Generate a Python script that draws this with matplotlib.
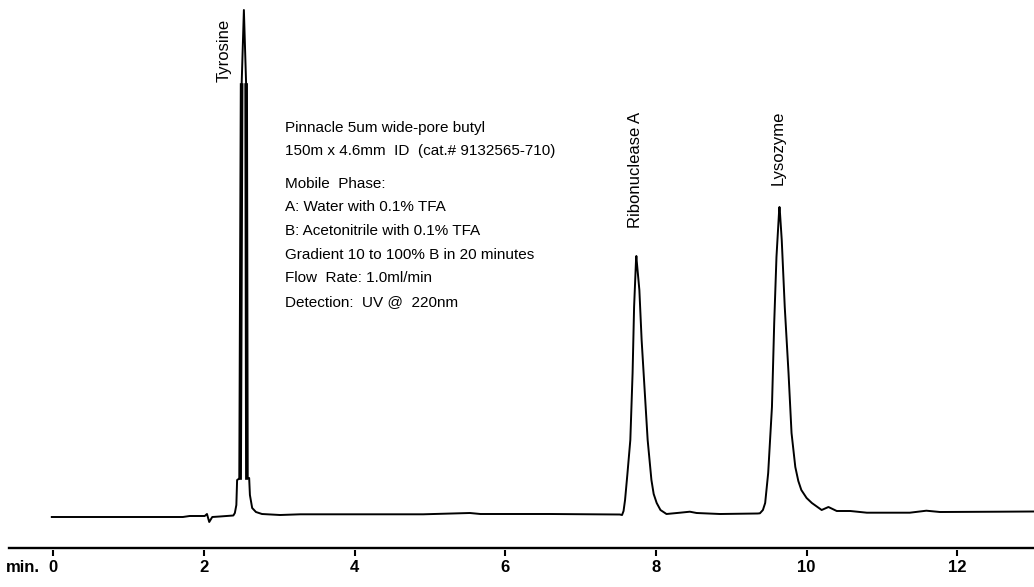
import matplotlib
matplotlib.use("Agg")
import matplotlib.pyplot as plt
from matplotlib import font_manager

# chromatogram trace: time (min), absorbance (arb. units)
trace_time = [-0.02, 1.72, 1.81, 2.01, 2.04, 2.07, 2.11, 2.21, 2.39, 2.41,
              2.43, 2.44, 2.48, 2.50, 2.53, 2.56, 2.57, 2.60, 2.61, 2.64,
              2.69, 2.77, 3.01, 3.28, 4.91, 5.53, 5.67, 6.59, 7.52, 7.55,
              7.57, 7.59, 7.62, 7.66, 7.69, 7.71, 7.735, 7.74, 7.745, 7.78,
              7.81, 7.85, 7.89, 7.94, 7.97, 8.01, 8.06, 8.14, 8.32, 8.45,
              8.54, 8.85, 9.35, 9.38, 9.42, 9.45, 9.49, 9.54, 9.57, 9.60,
              9.635, 9.64, 9.645, 9.67, 9.71, 9.76, 9.80, 9.85, 9.89, 9.93,
              10.00, 10.07, 10.20, 10.29, 10.40, 10.58, 10.80, 11.37, 11.59, 11.77,
              12.57, 13.02]
trace_signal = [0.0, 0.0, 0.1, 0.1, 0.3, -0.5, 0.0, 0.05, 0.15, 0.4,
                1.2, 3.7, 3.9, 43.2, 50.7, 43.2, 3.9, 3.9, 2.2, 0.9,
                0.5, 0.3, 0.2, 0.27, 0.27, 0.4, 0.3, 0.3, 0.25, 0.2,
                0.6, 1.7, 4.2, 7.7, 14.4, 21.0, 25.6, 26.1, 25.6, 22.7,
                17.7, 12.7, 7.7, 3.7, 2.3, 1.4, 0.7, 0.3, 0.43, 0.53,
                0.4, 0.3, 0.35, 0.37, 0.7, 1.4, 4.4, 11.0, 19.4, 26.0,
                30.6, 31.0, 30.6, 27.7, 21.0, 14.4, 8.4, 5.0, 3.6, 2.7,
                1.9, 1.4, 0.7, 1.0, 0.6, 0.6, 0.43, 0.43, 0.63, 0.5,
                0.53, 0.55]

peak_names = ["Tyrosine", "Ribonuclease A", "Lysozyme"]
peak_times = [2.27, 7.73, 9.62]
peak_label_y = [43.5, 28.9, 33.2]

x_ticks = [0, 2, 4, 6, 8, 10, 12]

conditions = [
    "Pinnacle 5um wide-pore butyl",
    "150m x 4.6mm  ID  (cat.# 9132565-710)",
    "Mobile  Phase:",
    "A: Water with 0.1% TFA",
    "B: Acetonitrile with 0.1% TFA",
    "Gradient 10 to 100% B in 20 minutes",
    "Flow  Rate: 1.0ml/min",
    "Detection:  UV @  220nm",
]
condition_y = [128, 151, 184, 207, 231, 255, 278, 302]  # pixel rows of text lines

names = {f.name for f in font_manager.fontManager.ttflist}
narrow = "Liberation Sans Narrow" if "Liberation Sans Narrow" in names else "Liberation Sans"
plt.rcParams["font.family"] = ["Liberation Sans", "DejaVu Sans"]

W, H = 1034, 587
fig = plt.figure(figsize=(W / 100, H / 100), dpi=100)
ax = fig.add_axes([0, 1 - 550 / H, 1, 550 / H])

ax.plot(trace_time, trace_signal, color="black", lw=1.4, solid_joinstyle="round")
# the off-scale tyrosine peak is drawn with heavy flanks in the original trace
ax.plot(trace_time[12:14], trace_signal[12:14], color="black", lw=2.6)
ax.plot(trace_time[15:17], trace_signal[15:17], color="black", lw=2.6)

ax.set_xlim(-53.3 / 75.33, (W - 53.3) / 75.33)
ax.set_ylim(-3.3, 51.7)

for name, t, y in zip(peak_names, peak_times, peak_label_y):
    ax.text(t, y, name, rotation=90, ha="center", va="bottom", fontsize=12)

for line, py in zip(conditions, condition_y):
    fig.text(285 / W, 1 - py / H, line, ha="left", va="center",
             fontsize=15.5 if narrow != "Liberation Sans" else 11,
             family=[narrow, "DejaVu Sans"])

# axis line sits a little above the tick marks
ax.axhline(-3.07, xmin=9 / W, xmax=1, color="black", lw=1.7)
for s in ax.spines.values():
    s.set_visible(False)
ax.set_yticks([])
ax.set_xticks(x_ticks)
ax.set_xticklabels([str(t) for t in x_ticks], fontweight="bold", fontsize=12,
                   family=[narrow, "DejaVu Sans"])
ax.tick_params(axis="x", direction="out", length=4.3, width=1.5, pad=3)
fig.text(40 / W, 1 - 568 / H, "min.", ha="right", va="center", fontweight="bold",
         fontsize=12, family=[narrow, "DejaVu Sans"])

fig.savefig("out.png", dpi=100)
